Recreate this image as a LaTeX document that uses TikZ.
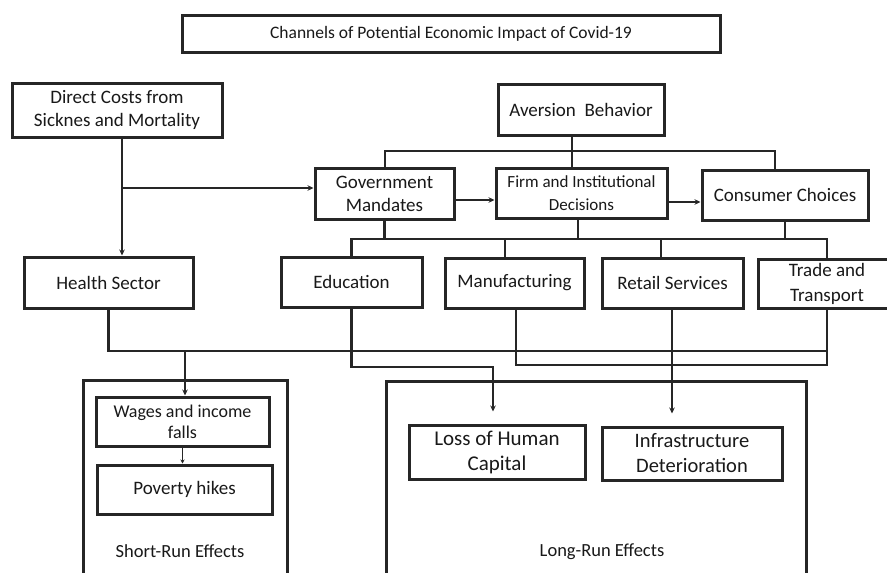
\documentclass[tikz,border=0pt]{standalone}
\usepackage{fontspec}
\setmainfont{Carlito}
\usetikzlibrary{arrows.meta}
\tikzset{
  bx/.style={draw=black!85, line width=3pt, fill=white, align=center, inner sep=0pt,
    font=\fontsize{19}{23}\selectfont, text=black!90},
  grp/.style={draw=black!85, line width=3pt, inner sep=0pt},
  lbl/.style={font=\fontsize{18.5}{20}\selectfont, text=black!90, inner sep=0pt},
  con/.style={draw=black!85, line width=2.6pt},
  arr/.style={con, -{Stealth[length=6pt,width=5.5pt]}},
  thinarr/.style={draw=black!85, line width=1.4pt, -{Stealth[length=4pt,width=4pt]}},
}
\begin{document}
\begin{tikzpicture}[x=1pt,y=-1pt]
\useasboundingbox (0,0) rectangle (887,573);
\clip (0,0) rectangle (887,573);
\fill[white] (0,0) rectangle (887,573);

% group boxes
\node[grp, minimum width=204, minimum height=230] (short) at (185,495) {};
\node[grp, minimum width=420, minimum height=230] (long) at (596,496) {};
\node[lbl] (shortlbl) at (180,551) {Short-Run Effects};
\node[lbl] (longlbl) at (602,552) {Long-Run Effects};

% title
\node[bx, minimum width=538, minimum height=37, font=\fontsize{17.5}{20}\selectfont] (title) at (451,33.5) {Channels of Potential Economic Impact of Covid-19};

% junction coordinates
\coordinate (jA) at (122,188);
\coordinate (t1) at (385,151);
\coordinate (t2) at (775,151);
\coordinate (av) at (572,151);
\coordinate (gf) at (0,200);
\coordinate (fc) at (0,202);
\coordinate (b) at (0,239);
\coordinate (fd) at (578,239);
\coordinate (md) at (505,239);
\coordinate (rd) at (661,239);
\coordinate (h) at (0,351);
\coordinate (wd) at (185,351);
\coordinate (m2) at (516,365);
\coordinate (r2) at (672,308);
\coordinate (e2) at (493,367);

% nodes
\node[bx, minimum width=210, minimum height=54] (direct) at (117,110) {Direct Costs from\\Sicknes and Mortality};
\node[bx, minimum width=166, minimum height=51] (aversion) at (581,109.5) {Aversion\ \ Behavior};
\node[bx, minimum width=139, minimum height=51] (gov) at (384.5,193.5) {Government\\Mandates};
\node[bx, minimum width=171, minimum height=50, font=\fontsize{17}{23}\selectfont] (firm) at (581.5,193) {Firm and Institutional\\Decisions};
\node[bx, minimum width=166, minimum height=50] (consumer) at (785,195) {Consumer Choices};
\node[bx, minimum width=169, minimum height=51] (health) at (108.5,282.5) {Health Sector};
\node[bx, minimum width=141, minimum height=50] (edu) at (351.5,282) {Education};
\node[bx, minimum width=139, minimum height=50] (manu) at (514.5,283) {Manufacturing};
\node[bx, minimum width=141, minimum height=50] (retail) at (672.5,283) {Retail Services};
\node[bx, minimum width=138, minimum height=49, font=\fontsize{19}{25}\selectfont] (trade) at (827,283.5) {Trade and\\Transport};
\node[bx, minimum width=173, minimum height=49, font=\fontsize{18}{21}\selectfont] (wages) at (182.5,421.5) {Wages and income\\falls};
\node[bx, minimum width=175, minimum height=49] (poverty) at (184.5,489.5) {Poverty hikes};
\node[bx, minimum width=176, minimum height=54, font=\fontsize{21}{25}\selectfont] (loss) at (497,452) {Loss of Human\\Capital};
\node[bx, minimum width=180, minimum height=53, font=\fontsize{20.5}{25}\selectfont] (infra) at (692,453.5) {Infrastructure\\Deterioration};

% connectors: direct costs
\draw[arr] ([xshift=5pt]direct.south) -- ([xshift=5pt]direct.south |- health.north);
\draw[arr] (jA) -- (jA -| gov.west);

% top bus from aversion
\draw[con] (t1 |- gov.north) -- (t1) -- (t2) -- (t2 |- consumer.north);
\draw[con] (av |- aversion.south) -- (av |- firm.north);

% horizontal arrows
\draw[arr] (gov.east |- gf) -- (firm.west |- gf);
\draw[arr] (firm.east |- fc) -- (consumer.west |- fc);

% lower bus
\draw[con] (edu.north) -- (edu.north |- b) -- (trade.north |- b) -- (trade.north);
\draw[con] (gov.south) -- (gov.south |- b);
\draw[con] (fd |- firm.south) -- (fd);
\draw[con] (consumer.south) -- (consumer.south |- b);
\draw[con] (md) -- (md |- manu.north);
\draw[con] (rd) -- (rd |- retail.north);

% effects
\draw[con] (health.south) -- (health.south |- h) -- (trade.south |- h);
\draw[arr] (wd) -- (wd |- wages.north);
\draw[con] (trade.south) -- (trade.south |- m2) -- (m2) -- (m2 |- manu.south);
\draw[arr, shorten >=12pt] (r2 |- retail.south) -- (r2 |- infra.north);
\draw[arr, shorten >=12pt] (edu.south) -- (edu.south |- e2) -- (e2) -- (e2 |- loss.north);
\draw[thinarr] (wages.south) -- (wages.south |- poverty.north);
\end{tikzpicture}
\end{document}
